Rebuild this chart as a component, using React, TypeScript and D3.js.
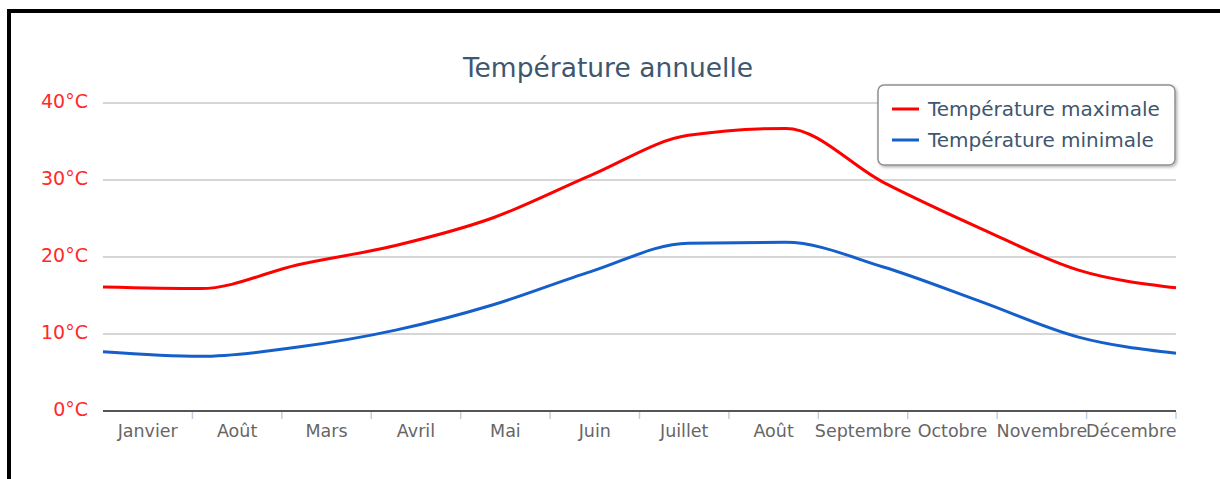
import * as d3 from "d3"
import React from "react"

const months = ["Janvier", "Août", "Mars", "Avril", "Mai", "Juin", "Juillet", "Août ", "Septembre", "Octobre", "Novembre", "Décembre"]
const tMax = [16.1, 15.9, 19.0, 21.5, 25.1, 30.6, 35.8, 36.7, 29.7, 23.7, 18.3, 16.0]
const tMin = [7.7, 7.1, 8.3, 10.5, 13.8, 18.1, 21.8, 21.9, 18.7, 14.2, 9.6, 7.5]
const yTicks = [0, 10, 20, 30, 40]
const series = [
  { name: "Température maximale", values: tMax, color: "#ff0000" },
  { name: "Température minimale", values: tMin, color: "#155fca" },
]

const W = 1220
const H = 479
const left = 103
const right = 1176
const top = 103
const bottom = 411

export default function App() {
  const xPoint = d3.scalePoint<string>().domain(months).range([left, right]).padding(0)
  const xBand = d3.scaleBand<string>().domain(months).range([left, right]).padding(0)
  const y = d3.scaleLinear().domain([0, 40]).range([bottom, top])
  const line = d3
    .line<number>()
    .x((d, i) => xPoint(months[i]) as number)
    .y((d) => y(d))
    .curve(d3.curveMonotoneX)
  const font = "'DejaVu Sans', Verdana, sans-serif"

  return (
    <svg width={W} height={H} style={{ position: "absolute", left: 0, top: 0, background: "#fff" }}>
      <defs>
        <filter id="shadow" x="-10%" y="-20%" width="130%" height="160%">
          <feDropShadow dx="1.5" dy="1.5" stdDeviation="1.5" floodColor="#000" floodOpacity="0.3" />
        </filter>
      </defs>
      {/* frame */}
      <rect x={7} y={9} width={W - 7} height={4} fill="#000" />
      <rect x={7} y={9} width={4} height={H - 9} fill="#000" />

      <text x={608} y={77} textAnchor="middle" fontFamily={font} fontSize={26.5} fill="#3e576f">
        Température annuelle
      </text>

      {yTicks.map((t) => (
        <g key={t}>
          {t > 0 && <line x1={left} x2={right} y1={y(t)} y2={y(t)} stroke="#c8c8c8" strokeWidth={1.5} />}
          <text x={88} y={y(t) + 5} textAnchor="end" fontFamily={font} fontSize={19} fill="#ff2a2a">
            {t}°C
          </text>
        </g>
      ))}

      {/* x axis */}
      <line x1={left} x2={right} y1={bottom} y2={bottom} stroke="#555" strokeWidth={2} />
      {months.map((m) => {
        const x0 = xBand(m) as number
        const xe = x0 + xBand.bandwidth()
        return (
          <g key={m}>
            <line x1={xe} x2={xe} y1={bottom + 1} y2={bottom + 8} stroke="#c0d0e0" strokeWidth={1.5} />
            <text x={x0 + xBand.bandwidth() / 2} y={437} textAnchor="middle" fontFamily={font} fontSize={17.5} fill="#666">
              {m.trim()}
            </text>
          </g>
        )
      })}

      {series.map((s) => (
        <path key={s.name} d={line(s.values) || ""} fill="none" stroke={s.color} strokeWidth={3} />
      ))}

      {/* legend */}
      <rect x={878} y={85} width={297} height={80} rx={6} fill="#fff" stroke="#909090" strokeWidth={1.5} filter="url(#shadow)" />
      {series.map((s, i) => (
        <g key={s.name} transform={`translate(892,${109 + i * 31})`}>
          <line x1={0} x2={27} y1={0} y2={0} stroke={s.color} strokeWidth={3} />
          <text x={36} y={6.5} fontFamily={font} fontSize={20} fill="#3e576f">
            {s.name}
          </text>
        </g>
      ))}
    </svg>
  )
}
